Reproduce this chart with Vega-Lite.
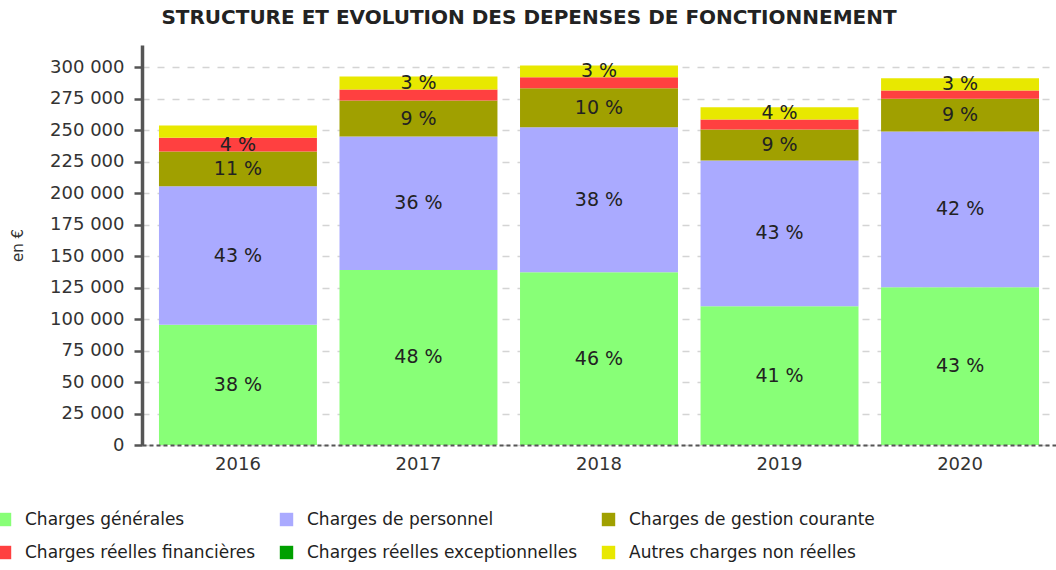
{
  "$schema": "https://vega.github.io/schema/vega-lite/v6.json",
  "width": 914,
  "height": 400,
  "autosize": {"type": "none"},
  "padding": {"left": 142, "top": 45, "right": 0, "bottom": 125},
  "background": "white",
  "title": {
    "text": "STRUCTURE ET EVOLUTION DES DEPENSES DE FONCTIONNEMENT",
    "font": "DejaVu Sans",
    "fontSize": 20,
    "fontWeight": "bold",
    "color": "#222222",
    "anchor": "middle",
    "dx": -70,
    "offset": 17
  },
  "config": {
    "view": {"stroke": null},
    "locale": {"number": {"decimal": ",", "thousands": " ", "grouping": [3], "currency": ["", " €"]}}
  },
  "data": {
    "values": [
      {"year": "2016", "cat": "Charges générales", "rank": 1, "value": 95400, "label": "38 %"},
      {"year": "2016", "cat": "Charges de personnel", "rank": 2, "value": 110000, "label": "43 %"},
      {"year": "2016", "cat": "Charges de gestion courante", "rank": 3, "value": 27500, "label": "11 %"},
      {"year": "2016", "cat": "Charges réelles financières", "rank": 4, "value": 10900, "label": "4 %"},
      {"year": "2016", "cat": "Charges réelles exceptionnelles", "rank": 5, "value": 0, "label": ""},
      {"year": "2016", "cat": "Autres charges non réelles", "rank": 6, "value": 9800, "label": ""},
      {"year": "2017", "cat": "Charges générales", "rank": 1, "value": 139000, "label": "48 %"},
      {"year": "2017", "cat": "Charges de personnel", "rank": 2, "value": 105800, "label": "36 %"},
      {"year": "2017", "cat": "Charges de gestion courante", "rank": 3, "value": 28600, "label": "9 %"},
      {"year": "2017", "cat": "Charges réelles financières", "rank": 4, "value": 8700, "label": ""},
      {"year": "2017", "cat": "Charges réelles exceptionnelles", "rank": 5, "value": 0, "label": ""},
      {"year": "2017", "cat": "Autres charges non réelles", "rank": 6, "value": 10400, "label": "3 %"},
      {"year": "2018", "cat": "Charges générales", "rank": 1, "value": 137100, "label": "46 %"},
      {"year": "2018", "cat": "Charges de personnel", "rank": 2, "value": 115100, "label": "38 %"},
      {"year": "2018", "cat": "Charges de gestion courante", "rank": 3, "value": 31000, "label": "10 %"},
      {"year": "2018", "cat": "Charges réelles financières", "rank": 4, "value": 8700, "label": ""},
      {"year": "2018", "cat": "Charges réelles exceptionnelles", "rank": 5, "value": 0, "label": ""},
      {"year": "2018", "cat": "Autres charges non réelles", "rank": 6, "value": 9300, "label": "3 %"},
      {"year": "2019", "cat": "Charges générales", "rank": 1, "value": 110200, "label": "41 %"},
      {"year": "2019", "cat": "Charges de personnel", "rank": 2, "value": 115600, "label": "43 %"},
      {"year": "2019", "cat": "Charges de gestion courante", "rank": 3, "value": 24600, "label": "9 %"},
      {"year": "2019", "cat": "Charges réelles financières", "rank": 4, "value": 7900, "label": ""},
      {"year": "2019", "cat": "Charges réelles exceptionnelles", "rank": 5, "value": 0, "label": ""},
      {"year": "2019", "cat": "Autres charges non réelles", "rank": 6, "value": 9800, "label": "4 %"},
      {"year": "2020", "cat": "Charges générales", "rank": 1, "value": 125200, "label": "43 %"},
      {"year": "2020", "cat": "Charges de personnel", "rank": 2, "value": 123600, "label": "42 %"},
      {"year": "2020", "cat": "Charges de gestion courante", "rank": 3, "value": 26000, "label": "9 %"},
      {"year": "2020", "cat": "Charges réelles financières", "rank": 4, "value": 6500, "label": ""},
      {"year": "2020", "cat": "Charges réelles exceptionnelles", "rank": 5, "value": 0, "label": ""},
      {"year": "2020", "cat": "Autres charges non réelles", "rank": 6, "value": 9800, "label": "3 %"}
    ]
  },
  "encoding": {
    "x": {
      "field": "year",
      "type": "nominal",
      "scale": {"paddingInner": 0.125, "paddingOuter": 0.094},
      "axis": {
        "title": null,
        "labelAngle": 0,
        "labelFont": "DejaVu Sans",
        "labelFontSize": 18,
        "labelColor": "#333333",
        "labelPadding": 10,
        "ticks": false,
        "domain": true,
        "domainColor": "#555555",
        "domainWidth": 2,
        "domainDash": [4, 3],
        "zindex": 1
      }
    },
    "y": {
      "field": "value",
      "type": "quantitative",
      "stack": "zero",
      "scale": {"domain": [0, 317500], "nice": false},
      "axis": {
        "title": "en €",
        "titleFont": "DejaVu Sans",
        "titleFontSize": 15,
        "titleFontWeight": "normal",
        "titleColor": "#333333",
        "titlePadding": 24,
        "values": [0, 25000, 50000, 75000, 100000, 125000, 150000, 175000, 200000, 225000, 250000, 275000, 300000],
        "format": ",d",
        "labelFont": "DejaVu Sans",
        "labelFontSize": 18,
        "labelColor": "#333333",
        "labelPadding": 10,
        "tickSize": 8,
        "tickWidth": 2.5,
        "tickColor": "#555555",
        "domainColor": "#555555",
        "domainWidth": 3.5,
        "grid": true,
        "gridColor": "#d4d4d4",
        "gridDash": [7, 8],
        "gridWidth": 1.5
      }
    },
    "order": {"field": "rank", "type": "quantitative"}
  },
  "layer": [
    {
      "mark": {"type": "bar"},
      "encoding": {
        "color": {
          "field": "cat",
          "type": "nominal",
          "scale": {
            "domain": ["Charges générales", "Charges de personnel", "Charges de gestion courante", "Charges réelles financières", "Charges réelles exceptionnelles", "Autres charges non réelles"],
            "range": ["#88ff77", "#aaaaff", "#a0a000", "#ff4040", "#00a000", "#e8e800"]
          },
          "legend": {
            "title": null,
            "orient": "none",
            "legendX": -146,
            "legendY": 466,
            "direction": "horizontal",
            "columns": 3,
            "gridAlign": "none",
            "symbolType": "square",
            "symbolSize": 180,
            "symbolStrokeWidth": 0,
            "symbolOpacity": 1,
            "labelFont": "DejaVu Sans",
            "labelFontSize": 17,
            "labelColor": "#222222",
            "labelOffset": 12,
            "labelLimit": 400,
            "columnPadding": 22,
            "rowPadding": 15,
            "padding": 0
          }
        }
      }
    },
    {
      "mark": {"type": "text", "font": "DejaVu Sans", "fontSize": 19, "color": "#222222", "baseline": "middle"},
      "encoding": {
        "y": {"field": "value", "type": "quantitative", "stack": "zero", "bandPosition": 0.5},
        "text": {"field": "label", "type": "nominal"}
      }
    }
  ]
}
